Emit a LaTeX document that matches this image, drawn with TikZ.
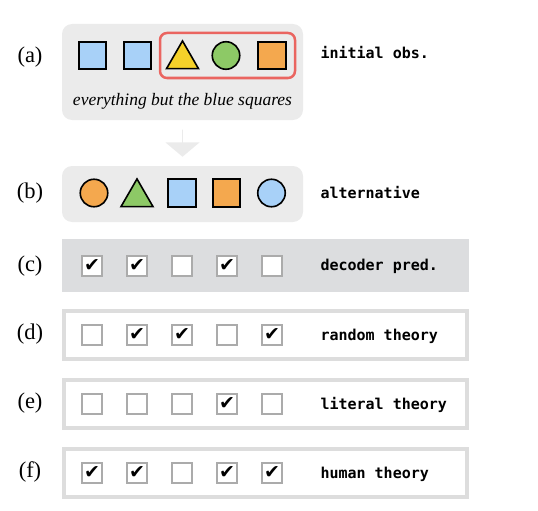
\documentclass[tikz,border=0pt]{standalone}
\usepackage{fontspec}
\setmainfont{Liberation Serif}
\setmonofont{DejaVu Sans Mono}
\newfontfamily\symfont{DejaVu Sans}
\usepackage{xcolor}
\usetikzlibrary{shapes,shapes.geometric,shapes.arrows,positioning}

\definecolor{skyblue}{HTML}{A8D1F8}
\definecolor{sunny}{HTML}{F5D12A}
\definecolor{leaf}{HTML}{8DC966}
\definecolor{tangerine}{HTML}{F4A84E}
\definecolor{salmon}{HTML}{EA6560}
\definecolor{panelgray}{HTML}{EBEBEB}
\definecolor{predgray}{HTML}{DCDDDF}
\definecolor{framegray}{HTML}{DDDDDD}
\definecolor{boxgray}{HTML}{ABABAB}

\newcommand{\tick}{{\symfont\char"2714}}

\begin{document}
\begin{tikzpicture}[x=1pt,y=-1pt,node distance=45pt,
    sqr/.style={rectangle,draw,line width=1.6pt,minimum size=27.5pt,inner sep=0pt},
    circ/.style={circle,draw,line width=1.6pt,minimum size=27.5pt,inner sep=0pt},
    tri/.style={regular polygon,regular polygon sides=3,draw,line width=1.6pt,minimum size=37pt,inner sep=0pt,anchor=south},
    panel/.style={rectangle,rounded corners=10pt,fill=panelgray,inner sep=0pt},
    theory/.style={rectangle,draw=framegray,line width=4pt,fill=white,minimum width=403pt,minimum height=48pt},
    chk/.style={rectangle,draw=boxgray,line width=1.6pt,fill=white,minimum size=19.5pt,inner sep=0pt,font=\fontsize{19}{19}\selectfont},
    rowtag/.style={font=\fontsize{22.5}{22.5}\selectfont},
    rowname/.style={anchor=west,font=\ttfamily\bfseries\fontsize{15}{15}\selectfont}]
    \useasboundingbox (0,0) rectangle (538,511);

    % (a) initial observation
    \node[panel,minimum width=241pt,minimum height=96pt] (pa) at (182.5,72) {};
    \node[sqr,fill=skyblue] (a1) at (92.5,55.5) {};
    \node[sqr,fill=skyblue] (a2) at (137.5,55.5) {};
    \node[tri,fill=sunny] (a3) at (182.5,69.5) {};
    \node[circ,fill=leaf] (a4) at (226,55.5) {};
    \node[sqr,fill=tangerine] (a5) at (272,55.5) {};
    \node[rectangle,rounded corners=7pt,draw=salmon,line width=2.5pt,minimum width=135pt,minimum height=45pt] (sel) at (227.5,55.5) {};
    \node[font=\itshape\fontsize{17.5}{17.5}\selectfont] (rule) at (182.5,101) {everything but the blue squares};
    \node[rowtag] (la) at (30,57) {(a)};
    \node[rowname] (ta) at (317,53) {initial obs.};

    % gray arrow down
    \path (pa.south) -- (182.5,166) node[midway,single arrow,shape border rotate=270,fill=panelgray,minimum height=27pt,minimum width=34pt,single arrow head extend=10.5pt,single arrow tip angle=100,inner sep=0pt] (flow) {};

    % (b) alternative
    \node[panel,minimum width=241pt,minimum height=56pt] (pb) at (182.5,194) {};
    \node[circ,fill=tangerine] (b1) at (94,193) {};
    \node[tri,fill=leaf] (b2) at (137,207.5) {};
    \node[sqr,fill=skyblue] (b3) at (182,193) {};
    \node[sqr,fill=tangerine] (b4) at (226.5,193) {};
    \node[circ,fill=skyblue] (b5) at (271.5,193) {};
    \node[rowtag] (lb) at (30,193) {(b)};
    \node[rowname] (tb) at (317,193) {alternative};

    % (c) decoder predictions
    \node[rectangle,fill=predgray,minimum width=407pt,minimum height=53pt] (pc) at (265.5,265.5) {};
    \node[chk] (c1) at (92,266) {\tick};
    \node[chk] (c2) [right of=c1] {\tick};
    \node[chk] (c3) [right of=c2] {};
    \node[chk] (c4) [right of=c3] {\tick};
    \node[chk] (c5) [right of=c4] {};
    \node[rowtag] (lc) at (30,266) {(c)};
    \node[rowname] (tc) at (317,266) {decoder pred.};

    % (d) random theory
    \node[theory] (pd) at (265.5,335) {};
    \node[chk] (d1) at (92,335) {};
    \node[chk] (d2) [right of=d1] {\tick};
    \node[chk] (d3) [right of=d2] {\tick};
    \node[chk] (d4) [right of=d3] {};
    \node[chk] (d5) [right of=d4] {\tick};
    \node[rowtag] (ld) at (30,334) {(d)};
    \node[rowname] (td) at (317,336) {random theory};

    % (e) literal theory
    \node[theory] (pe) at (265.5,404) {};
    \node[chk] (e1) at (92,404) {};
    \node[chk] (e2) [right of=e1] {};
    \node[chk] (e3) [right of=e2] {};
    \node[chk] (e4) [right of=e3] {\tick};
    \node[chk] (e5) [right of=e4] {};
    \node[rowtag] (le) at (30,403) {(e)};
    \node[rowname] (te) at (317,405) {literal theory};

    % (f) human theory
    \node[theory] (pf) at (265.5,473) {};
    \node[chk] (f1) at (92,473) {\tick};
    \node[chk] (f2) [right of=f1] {\tick};
    \node[chk] (f3) [right of=f2] {};
    \node[chk] (f4) [right of=f3] {\tick};
    \node[chk] (f5) [right of=f4] {\tick};
    \node[rowtag] (lf) at (30,472) {(f)};
    \node[rowname] (tf) at (317,474) {human theory};

\end{tikzpicture}
\end{document}
